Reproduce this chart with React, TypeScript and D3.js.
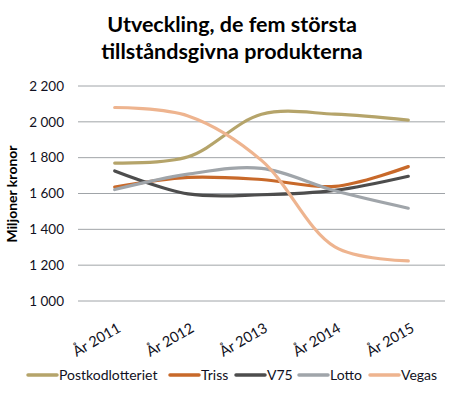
import * as d3 from "d3";

const years = ["År 2011", "År 2012", "År 2013", "År 2014", "År 2015"];
const postkod = [1770, 1805, 2042, 2043, 2010];
const triss = [1636, 1690, 1678, 1640, 1750];
const v75 = [1726, 1598, 1593, 1617, 1696];
const lotto = [1622, 1708, 1740, 1615, 1518];
const vegas = [2080, 2033, 1785, 1302, 1224];
const yTicks = [1000, 1200, 1400, 1600, 1800, 2000, 2200];

const series = [
  { name: "Postkodlotteriet", values: postkod, color: "#B5A46A" },
  { name: "Triss", values: triss, color: "#C8692A" },
  { name: "V75", values: v75, color: "#4D4D4D" },
  { name: "Lotto", values: lotto, color: "#A0A5AA" },
  { name: "Vegas", values: vegas, color: "#EEB48F" },
];

const font = "Lato, 'Liberation Sans', sans-serif";

export default function App() {
  const W = 455;
  const H = 396;
  const left = 78;
  const right = 445;
  const top = 86;
  const bottom = 301;

  const x = d3.scaleBand().domain(years).range([left, right]);
  const y = d3.scaleLinear().domain([1000, 2200]).range([bottom, top]);

  const line = d3
    .line<number>()
    .x((_, i) => x(years[i])! + x.bandwidth() / 2)
    .y((d) => y(d))
    .curve(d3.curveCatmullRom.alpha(0.5));

  // legend layout
  const legendX = [28, 170, 236, 299, 370];

  return (
    <svg width={W} height={H} style={{ position: "absolute", left: 0, top: 0 }}>
      <rect width={W} height={H} fill="#fff" />
      <text x={232} y={32} textAnchor="middle" fontFamily={font} fontWeight="bold" fontSize={21.5} fill="#000">
        Utveckling, de fem största
      </text>
      <text x={232} y={59} textAnchor="middle" fontFamily={font} fontWeight="bold" fontSize={21.5} fill="#000">
        tillståndsgivna produkterna
      </text>

      {yTicks.map((t) => (
        <g key={t}>
          <line x1={left} x2={right} y1={y(t)} y2={y(t)} stroke="#A0A4A8" strokeWidth={1} />
          <text x={64} y={y(t)} dy="0.35em" textAnchor="end" fontFamily={font} fontSize={13.5} fill="#111122">
            {d3.format(",")(t).replace(",", " ")}
          </text>
        </g>
      ))}

      <text
        transform={`translate(17, 194) rotate(-90)`}
        textAnchor="middle"
        fontFamily={font}
        fontWeight="bold"
        fontSize={14}
        fill="#000"
      >
        Miljoner kronor
      </text>

      {years.map((yr) => (
        <text
          key={yr}
          transform={`translate(${x(yr)! + x.bandwidth() / 2 + 7}, 331) rotate(-30)`}
          textAnchor="end"
          fontFamily={font}
          fontSize={14.5}
          fill="#111122"
        >
          {yr}
        </text>
      ))}

      {series.map((s) => (
        <path key={s.name} d={line(s.values)!} fill="none" stroke={s.color} strokeWidth={3.2} strokeLinecap="round" />
      ))}

      {series.map((s, i) => (
        <g key={s.name} transform={`translate(${legendX[i]}, 375)`}>
          <line x1={0} x2={29} y1={0} y2={0} stroke={s.color} strokeWidth={3.5} strokeLinecap="round" />
          <text x={31} y={0} dy="0.35em" fontFamily={font} fontSize={14} fill="#111122">
            {s.name}
          </text>
        </g>
      ))}
    </svg>
  );
}
